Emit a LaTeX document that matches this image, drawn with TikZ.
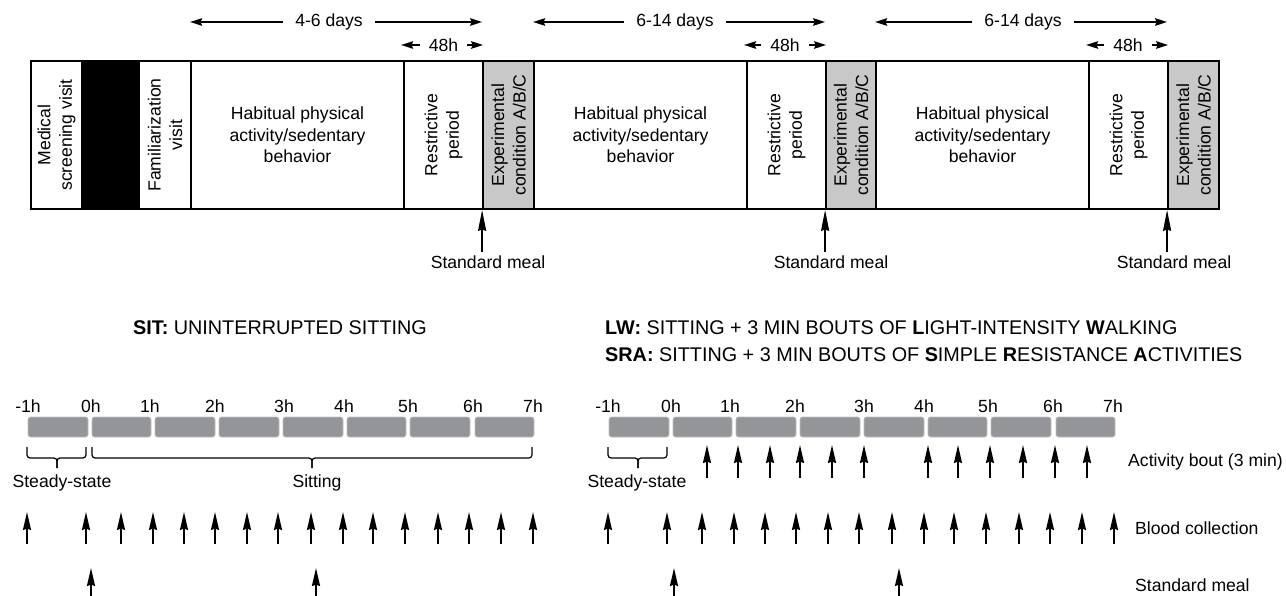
\documentclass[tikz,border=0pt]{standalone}
\usepackage{fontspec}
\setmainfont{Liberation Sans}
\usetikzlibrary{arrows.meta}
\definecolor{expgray}{HTML}{C8C8C8}
\definecolor{blockgray}{HTML}{939598}
\definecolor{blockedge}{HTML}{BDBEC0}
\begin{document}
\begin{tikzpicture}[x=1pt,y=-1pt,
  every node/.style={font=\fontsize{17.6}{21.5}\selectfont, inner sep=0pt},
  tbox/.style={draw, line width=1.8pt, minimum height=148pt, inner sep=0pt},
  vtext/.style={rotate=90, align=center},
  htext/.style={align=center},
  dayslbl/.style={inner xsep=12pt},
  hlbl/.style={inner xsep=9pt},
  harrow/.style={line width=1.7pt, -{Stealth[length=12pt,width=7.5pt,inset=1.5pt]}},
  varrow/.style={line width=1.8pt, -{Stealth[length=18pt,width=8pt,inset=1.5pt]}},
  marrow/.style={line width=1.8pt, -{Stealth[length=21pt,width=8pt,inset=1.5pt]}},
  blk/.style={fill=blockgray, draw=blockedge, line width=0.7pt, rounded corners=2.5pt, minimum height=20pt},
  bracepath/.style={line width=1.2pt, rounded corners=3pt},
  title/.style={font=\fontsize{19.8}{23}\selectfont},
  meallbl/.style={anchor=north, inner ysep=4pt}
]
\useasboundingbox (0,0) rectangle (1286,596);

% ---------- top timeline ----------
\node[tbox, minimum width=51pt] (med) at (56.5,135) {};
\node[vtext] at (med) {Medical\\screening visit};
\node[tbox, fill=black, minimum width=57pt] (blkbox) at (110.5,135) {};
\node[tbox, minimum width=52pt] (fam) at (165,135) {};
\node[vtext] at (fam) {Familiarization\\visit};

\node[tbox, minimum width=213pt] (hab1) at (297.5,135) {};
\node[htext] at (hab1) {Habitual physical\\activity/sedentary\\behavior};
\node[tbox, minimum width=79pt] (res1) at (443.5,135) {};
\node[vtext] at (res1) {Restrictive\\period};
\node[tbox, fill=expgray, minimum width=51pt] (exp1) at (508.5,135) {};
\node[vtext] at (exp1) {Experimental\\condition A/B/C};

\node[tbox, minimum width=213pt] (hab2) at (640.5,135) {};
\node[htext] at (hab2) {Habitual physical\\activity/sedentary\\behavior};
\node[tbox, minimum width=79pt] (res2) at (786.5,135) {};
\node[vtext] at (res2) {Restrictive\\period};
\node[tbox, fill=expgray, minimum width=50pt] (exp2) at (851,135) {};
\node[vtext] at (exp2) {Experimental\\condition A/B/C};

\node[tbox, minimum width=213pt] (hab3) at (982.5,135) {};
\node[htext] at (hab3) {Habitual physical\\activity/sedentary\\behavior};
\node[tbox, minimum width=79pt] (res3) at (1128.5,135) {};
\node[vtext] at (res3) {Restrictive\\period};
\node[tbox, fill=expgray, minimum width=51pt] (exp3) at (1193.5,135) {};
\node[vtext] at (exp3) {Experimental\\condition A/B/C};

% duration arrows
\node[dayslbl] (d1) at (329,22) {4-6 days};
\draw[harrow] (d1) -- (hab1.west |- d1);
\draw[harrow] (d1) -- (exp1.west |- d1);
\node[dayslbl] (d2) at (675,22) {6-14 days};
\draw[harrow] (d2) -- (hab2.west |- d2);
\draw[harrow] (d2) -- (exp2.west |- d2);
\node[dayslbl] (d3) at (1023,22) {6-14 days};
\draw[harrow] (d3) -- (hab3.west |- d3);
\draw[harrow] (d3) -- (exp3.west |- d3);

\node[hlbl] (h1) at (443.5,45) {48h};
\draw[harrow] (h1) -- ([xshift=-2pt]res1.west |- h1);
\draw[harrow] (h1) -- ([xshift=1pt]exp1.west |- h1);
\node[hlbl] (h2) at (785,45) {48h};
\draw[harrow] (h2) -- ([xshift=-2pt]res2.west |- h2);
\draw[harrow] (h2) -- ([xshift=1pt]exp2.west |- h2);
\node[hlbl] (h3) at (1128,45) {48h};
\draw[harrow] (h3) -- ([xshift=-2pt]res3.west |- h3);
\draw[harrow] (h3) -- ([xshift=1pt]exp3.west |- h3);

% standard meal (top)
\node[meallbl] (sm1) at (488,252) {Standard meal};
\draw[marrow] (exp1.south west |- sm1.north) -- (exp1.south west);
\node[meallbl] (sm2) at (831,252) {Standard meal};
\draw[marrow] (exp2.south west |- sm2.north) -- (exp2.south west);
\node[meallbl] (sm3) at (1174,252) {Standard meal};
\draw[marrow] (exp3.south west |- sm3.north) -- (exp3.south west);

% ---------- bottom panels ----------
\node[title] (sit) at (280,328) {\textbf{SIT:} UNINTERRUPTED SITTING};
\node[title, anchor=west] (lw) at (605,328) {\textbf{LW:} SITTING + 3 MIN BOUTS OF \textbf{L}IGHT-INTENSITY \textbf{W}ALKING};
\node[title, anchor=west] (sra) at (605,355) {\textbf{SRA:} SITTING + 3 MIN BOUTS OF \textbf{S}IMPLE \textbf{R}ESISTANCE \textbf{A}CTIVITIES};

\foreach \off/\p in {0/L,581/R}{
  \foreach \a/\b [count=\i] in {28/88,92/151,155/215,219/279,283/343,347/406,410/470,475/534}{
    \node[blk, minimum width={\b-\a}] (\p b\i) at ({(\a+\b)/2+\off},427) {};
  }
  \foreach \x/\t [count=\i] in {28/-1h,91/0h,150/1h,215/2h,284/3h,344/4h,408/5h,473/6h,533/7h}{
    \node (\p hr\i) at ({\x+\off-(\off>0)},406) {\t};
  }
  \foreach \x [count=\i] in {27,86,121,153,184,215,247,278,311,343,373,405,438,469,501,533}{
    \coordinate (\p bcA\i) at (\x+\off,544);
    \coordinate (\p bcB\i) at (\x+\off,512);
    \draw[varrow] (\p bcA\i) -- (\p bcB\i);
  }
  % steady-state brace
  \coordinate (\p ssa) at (27+\off,447);
  \coordinate (\p ssb) at (86+\off,447);
  \coordinate (\p ssm) at (57+\off,458);
  \coordinate (\p sst) at (57+\off,468);
  \draw[bracepath] (\p ssa) |- (\p ssm) -- (\p sst);
  \draw[bracepath] (\p ssb) |- (\p ssm) -- (\p sst);
}

% sitting brace (left only)
\coordinate (sita) at (92,447);
\coordinate (sitb) at (532,447);
\coordinate (sitm) at (312,458);
\coordinate (sitt) at (312,468);
\draw[bracepath] (sita) |- (sitm) -- (sitt);
\draw[bracepath] (sitb) |- (sitm) -- (sitt);

\node (ssL) at (62,483) {Steady-state};
\node (sitting) at (317,483) {Sitting};
\node (ssR) at (637,483) {Steady-state};

% standard meal arrows (bottom)
\foreach \x [count=\i] in {91,316,674,899}{
  \coordinate (mA\i) at (\x,596);
  \coordinate (mB\i) at (\x,568);
  \draw[varrow] (mA\i) -- (mB\i);
}

% activity bouts (right)
\foreach \x [count=\i] in {707,738,770,800,832,864,928,958,990,1023,1055,1087}{
  \coordinate (abA\i) at (\x,478);
  \coordinate (abB\i) at (\x,445);
  \draw[varrow] (abA\i) -- (abB\i);
}

\node[anchor=west] (actlbl) at (1128,462) {Activity bout (3 min)};
\node[anchor=west] (bloodlbl) at (1135,528) {Blood collection};
\node[anchor=west] (meallbl) at (1135,585) {Standard meal};
\end{tikzpicture}
\end{document}
